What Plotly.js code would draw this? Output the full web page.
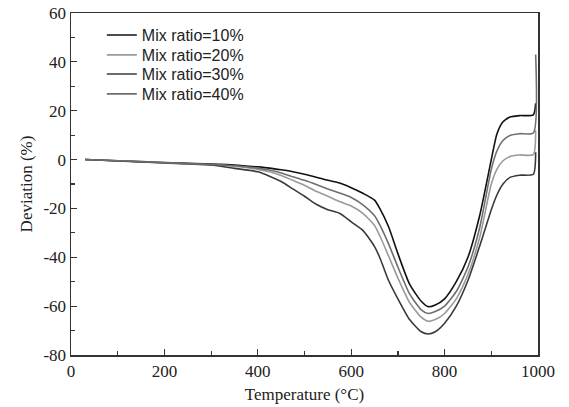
<!DOCTYPE html>
<html>
<head>
<meta charset="utf-8">
<script src="https://cdn.plot.ly/plotly-3.0.1.min.js"></script>
<style>html,body{margin:0;padding:0;background:#fff;}#chart{width:569px;height:407px;}</style>
</head>
<body>
<div id="chart"></div>
<script>
// Temperature (°C)
const temperature = [30, 100, 200, 300, 350, 400, 425, 450, 475, 500, 525, 550, 575, 600, 625, 650, 662, 680, 700, 725, 750, 765, 780, 800, 825, 850, 875, 900, 912, 925, 940, 960, 990, 995];
// Deviation (%)
const mix10 = [0, -0.5, -1.2, -1.8, -2.2, -3.0, -3.5, -4.2, -5.0, -6.0, -7.2, -8.5, -9.6, -11.5, -13.8, -16.6, -20.3, -27.5, -38.5, -51.0, -58.0, -60.2, -59.5, -57.0, -50.0, -40.0, -23.0, 0.0, 10.5, 15.5, 17.4, 18.0, 18.3, 23.0];
const mix20 = [0, -0.5, -1.3, -2.1, -2.7, -4.0, -5.0, -6.5, -8.5, -10.5, -13.0, -15.0, -17.2, -19.0, -22.0, -27.0, -31.5, -39.5, -48.5, -58.5, -64.5, -66.2, -65.5, -63.0, -57.0, -47.0, -32.0, -10.0, -4.0, -0.5, 1.3, 1.9, 2.0, 12.0];
const mix30 = [0, -0.6, -1.4, -2.2, -3.6, -5.0, -6.8, -9.0, -12.0, -15.0, -18.3, -20.5, -22.0, -25.5, -29.0, -35.6, -40.5, -49.5, -57.0, -65.5, -70.5, -71.4, -70.5, -67.0, -60.0, -49.5, -35.5, -20.5, -14.5, -10.0, -7.3, -6.4, -6.0, 3.0];
const mix40 = [0, -0.5, -1.3, -2.0, -2.5, -3.5, -4.3, -5.5, -7.0, -8.5, -10.2, -12.0, -13.7, -15.5, -18.5, -23.0, -27.0, -34.5, -44.0, -55.0, -61.5, -63.0, -62.2, -60.0, -54.0, -44.0, -28.0, -4.0, 3.5, 7.8, 9.9, 10.6, 10.9, 43.0];

const seriesNames = ['Mix ratio=10%', 'Mix ratio=20%', 'Mix ratio=30%', 'Mix ratio=40%'];
const seriesValues = [mix10, mix20, mix30, mix40];
const seriesColors = ['#111111', '#9a9a9a', '#3a3a3a', '#6e6e6e'];

const xTickVals = [0, 200, 400, 600, 800, 1000];
const xTickText = ['0', '200', '400', '600', '800', '1000'];
const yTickVals = [-80, -60, -40, -20, 0, 20, 40, 60];
const yTickText = ['-80', '-60', '-40', '-20', '0', '20', '40', '60'];

const legendIds = ['legend', 'legend2', 'legend3', 'legend4'];
const legendTops = [0.985, 0.927, 0.871, 0.813];

const traces = seriesValues.map((vals, i) => ({
  x: temperature,
  y: vals,
  name: seriesNames[i],
  type: 'scatter',
  mode: 'lines',
  legend: legendIds[i],
  line: {color: seriesColors[i], width: 1.6, shape: 'spline', smoothing: 0.6}
}));

const serif = 'Liberation Serif, Times New Roman, serif';
const axisCommon = {
  showgrid: false,
  zeroline: false,
  showline: true,
  linecolor: '#333',
  linewidth: 1.5,
  mirror: true,
  ticks: 'inside',
  ticklen: 6,
  tickwidth: 1.2,
  tickcolor: '#333',
  tickfont: {family: serif, size: 17, color: '#222'}
};

const layout = {
  width: 569,
  height: 407,
  margin: {l: 71, r: 31, t: 13, b: 52},
  paper_bgcolor: '#fff',
  plot_bgcolor: '#fff',
  showlegend: true,
  xaxis: Object.assign({}, axisCommon, {
    range: [0, 1000],
    tickmode: 'array',
    tickvals: xTickVals,
    ticktext: xTickText,
    minor: {dtick: 100, tick0: 0, ticks: 'inside', ticklen: 4, tickwidth: 1.2, tickcolor: '#333'},
    title: {text: 'Temperature (°C)', font: {family: serif, size: 17, color: '#222'}, standoff: 8}
  }),
  yaxis: Object.assign({}, axisCommon, {
    range: [-80, 60],
    tickmode: 'array',
    tickvals: yTickVals,
    ticktext: yTickText,
    minor: {dtick: 10, tick0: 0, ticks: 'inside', ticklen: 4, tickwidth: 1.2, tickcolor: '#333'},
    title: {text: 'Deviation (%)', font: {family: serif, size: 17, color: '#222'}, standoff: 6}
  })
};

legendIds.forEach((id, i) => {
  layout[id] = {
    x: 0.066, y: legendTops[i], xanchor: 'left', yanchor: 'top',
    bgcolor: 'rgba(0,0,0,0)',
    font: {family: 'Liberation Sans, Arial, sans-serif', size: 16, color: '#222'}
  };
});

Plotly.newPlot('chart', traces, layout, {displayModeBar: false, staticPlot: true});
</script>
</body>
</html>
